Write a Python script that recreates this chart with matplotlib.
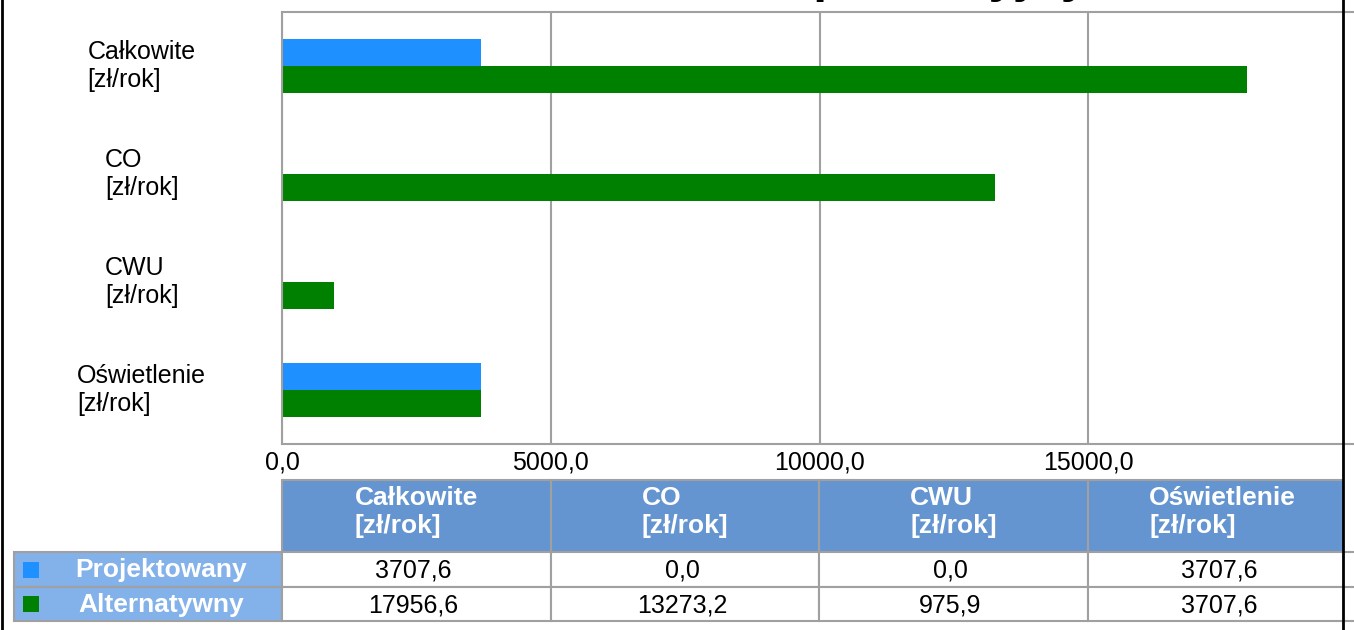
import numpy as np
import matplotlib
matplotlib.use("Agg")
import matplotlib.pyplot as plt
from matplotlib.patches import Rectangle

plt.rcParams['font.family'] = ['Liberation Sans', 'DejaVu Sans']

# data
title = "Koszt eksploatacyjny"
categories = ["Całkowite\n[zł/rok]", "CO\n[zł/rok]", "CWU\n[zł/rok]", "Oświetlenie\n[zł/rok]"]
series_names = ["Projektowany", "Alternatywny"]
projektowany = [3707.6, 0.0, 0.0, 3707.6]
alternatywny = [17956.6, 13273.2, 975.9, 3707.6]
x_ticks = [0, 5000, 10000, 15000]
colors = ["#1E90FF", "#008000"]


def fmt(v):
    return f"{v:.1f}".replace(".", ",")


W, H = 1354, 630
fig = plt.figure(figsize=(W / 100, H / 100), dpi=100)
grey = "#A0A0A0"

# bar chart, right part clipped by the figure edge like in the original
ax = fig.add_axes([282 / W, 1 - 444 / H, (1357 - 282) / W, 432 / H])
y = np.arange(len(categories))
ax.barh(y - 0.125, projektowany, height=0.25, color=colors[0], zorder=2)
ax.barh(y + 0.125, alternatywny, height=0.25, color=colors[1], zorder=2)
ax.set_xlim(0, 20000)
ax.set_ylim(len(categories) - 0.5, -0.5)
ax.set_xticks(x_ticks, [fmt(v) for v in x_ticks])
ax.set_yticks(y, categories)
ax.xaxis.grid(True, color=grey, lw=1.5)
ax.set_axisbelow(True)
for s in ax.spines.values():
    s.set_color(grey)
    s.set_linewidth(1.5)
ax.tick_params(axis='x', length=0, labelsize=18, pad=5)
ax.tick_params(axis='y', length=0, labelsize=18, pad=101)
for lbl in ax.get_yticklabels():
    lbl.set_horizontalalignment('center')
    lbl.set_verticalalignment('center')
    lbl.set_multialignment('left')
    lbl.set_linespacing(1.25)

fig.text(834 / W, 1 + 7.5 / H, title, ha='center', va='baseline',
         fontsize=36, fontweight='bold')

# data table below the chart (pixel coordinates)
tb = fig.add_axes([0, 0, 1, 1])
tb.set_xlim(0, W)
tb.set_ylim(H, 0)
tb.axis('off')
col_edges = [282, 551, 819, 1088, 1357]
row_edges = [480, 552, 587, 621]
label_left = 14

for i, cat in enumerate(categories):
    x0, x1 = col_edges[i], col_edges[i + 1]
    tb.add_patch(Rectangle((x0, row_edges[0]), x1 - x0, row_edges[1] - row_edges[0],
                           fc="#6595D0", ec=grey, lw=1.5))
    tb.text((x0 + x1) / 2, 512, cat, color='white',
            fontsize=19, fontweight='bold', ha='center', va='center',
            multialignment='left', linespacing=1.2)

for r, (name, vals) in enumerate(zip(series_names, [projektowany, alternatywny])):
    y0, y1 = row_edges[r + 1], row_edges[r + 2]
    yc = (y0 + y1) / 2
    tb.add_patch(Rectangle((label_left, y0), col_edges[0] - label_left, y1 - y0,
                           fc="#83B1EA", ec=grey, lw=1.5))
    tb.add_patch(Rectangle((23, yc - 8), 16, 16, fc=colors[r], ec='none'))
    tb.text(161, yc + 1, name, color='white', fontsize=19, fontweight='bold',
            ha='center', va='center')
    for i, v in enumerate(vals):
        x0, x1 = col_edges[i], col_edges[i + 1]
        tb.add_patch(Rectangle((x0, y0), x1 - x0, y1 - y0, fc='white', ec=grey, lw=1.5))
        tb.text((x0 + x1) / 2 - 3, yc + 1, fmt(v), color='black', fontsize=18,
                ha='center', va='center')

# window borders
tb.add_patch(Rectangle((1344, 0), W - 1344, H, fc='white', ec='none', zorder=5))
for yy in [12, 444, 552, 587, 621]:
    tb.plot([1344, W], [yy, yy], color=grey, lw=1.5, zorder=6)
tb.plot([1343, 1343], [0, H], color='black', lw=2, zorder=7)
tb.plot([2, 2], [0, H], color='black', lw=2, zorder=7)

fig.savefig("out.png", dpi=100)
